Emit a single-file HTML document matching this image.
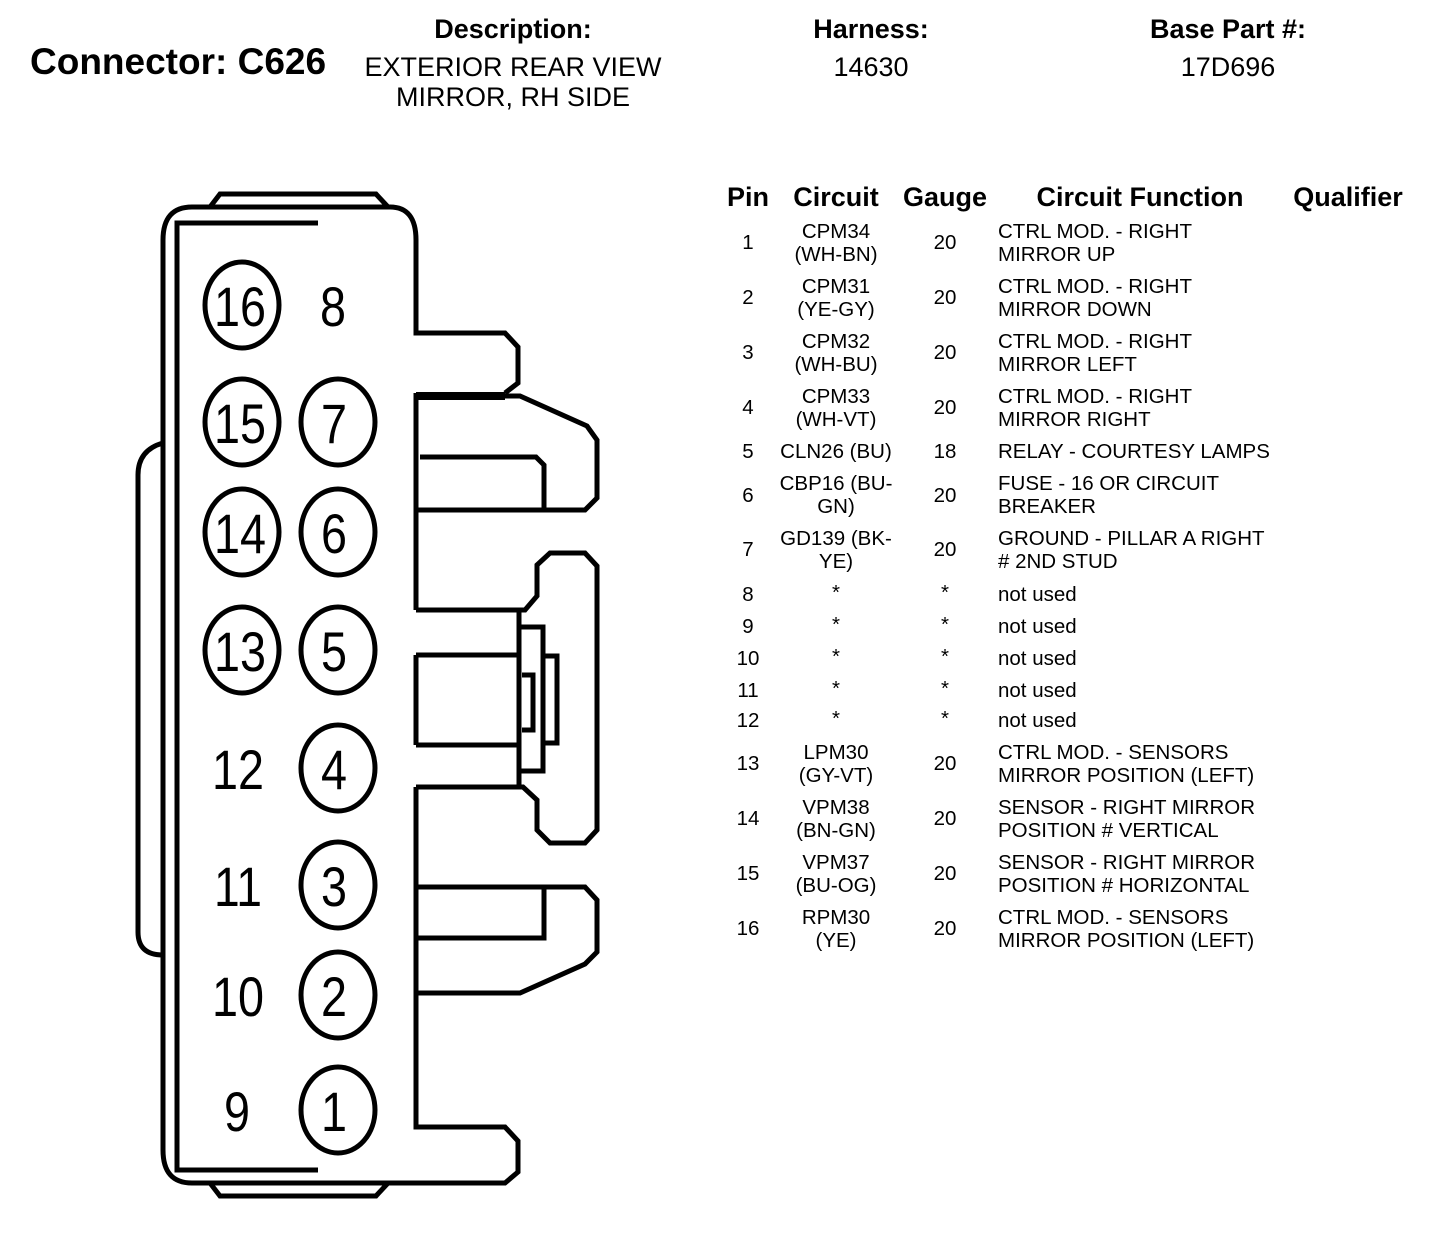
<!DOCTYPE html>
<html><head><meta charset="utf-8"><style>
html,body{margin:0;padding:0;background:#fff;}
svg{display:block;font-family:"Liberation Sans",Arial,sans-serif;}
</style></head><body>
<svg width="1456" height="1234" viewBox="0 0 1456 1234" xmlns="http://www.w3.org/2000/svg">
<g fill="#000">
<text x="30" y="74" font-size="37" font-weight="bold">Connector: C626</text>
<g font-size="27" text-anchor="middle">
<text x="513" y="38" font-weight="bold">Description:</text>
<text x="513" y="76">EXTERIOR REAR VIEW</text>
<text x="513" y="106">MIRROR, RH SIDE</text>
<text x="871" y="38" font-weight="bold">Harness:</text>
<text x="871" y="76">14630</text>
<text x="1228" y="38" font-weight="bold">Base Part #:</text>
<text x="1228" y="76">17D696</text>
<text x="748" y="206" font-weight="bold">Pin</text>
<text x="836" y="206" font-weight="bold">Circuit</text>
<text x="945" y="206" font-weight="bold">Gauge</text>
<text x="1140" y="206" font-weight="bold">Circuit Function</text>
<text x="1348" y="206" font-weight="bold">Qualifier</text>
</g>
<g font-size="20.5">
<g text-anchor="middle">
<text x="748" y="249">1</text><text x="836" y="238">CPM34</text><text x="836" y="261">(WH-BN)</text><text x="945" y="249">20</text>
<text x="748" y="304">2</text><text x="836" y="293">CPM31</text><text x="836" y="316">(YE-GY)</text><text x="945" y="304">20</text>
<text x="748" y="359">3</text><text x="836" y="348">CPM32</text><text x="836" y="371">(WH-BU)</text><text x="945" y="359">20</text>
<text x="748" y="414">4</text><text x="836" y="403">CPM33</text><text x="836" y="426">(WH-VT)</text><text x="945" y="414">20</text>
<text x="748" y="458">5</text><text x="836" y="458">CLN26 (BU)</text><text x="945" y="458">18</text>
<text x="748" y="502">6</text><text x="836" y="490">CBP16 (BU-</text><text x="836" y="513">GN)</text><text x="945" y="502">20</text>
<text x="748" y="556">7</text><text x="836" y="545">GD139 (BK-</text><text x="836" y="568">YE)</text><text x="945" y="556">20</text>
<text x="748" y="601">8</text><text x="836" y="599">*</text><text x="945" y="599">*</text>
<text x="748" y="633">9</text><text x="836" y="631">*</text><text x="945" y="631">*</text>
<text x="748" y="665">10</text><text x="836" y="663">*</text><text x="945" y="663">*</text>
<text x="748" y="697">11</text><text x="836" y="695">*</text><text x="945" y="695">*</text>
<text x="748" y="727">12</text><text x="836" y="725">*</text><text x="945" y="725">*</text>
<text x="748" y="770">13</text><text x="836" y="759">LPM30</text><text x="836" y="782">(GY-VT)</text><text x="945" y="770">20</text>
<text x="748" y="825">14</text><text x="836" y="814">VPM38</text><text x="836" y="837">(BN-GN)</text><text x="945" y="825">20</text>
<text x="748" y="880">15</text><text x="836" y="869">VPM37</text><text x="836" y="892">(BU-OG)</text><text x="945" y="880">20</text>
<text x="748" y="935">16</text><text x="836" y="924">RPM30</text><text x="836" y="947">(YE)</text><text x="945" y="935">20</text>
</g>
<text x="998" y="238">CTRL MOD. - RIGHT</text><text x="998" y="261">MIRROR UP</text>
<text x="998" y="293">CTRL MOD. - RIGHT</text><text x="998" y="316">MIRROR DOWN</text>
<text x="998" y="348">CTRL MOD. - RIGHT</text><text x="998" y="371">MIRROR LEFT</text>
<text x="998" y="403">CTRL MOD. - RIGHT</text><text x="998" y="426">MIRROR RIGHT</text>
<text x="998" y="458">RELAY - COURTESY LAMPS</text>
<text x="998" y="490">FUSE - 16 OR CIRCUIT</text><text x="998" y="513">BREAKER</text>
<text x="998" y="545">GROUND - PILLAR A RIGHT</text><text x="998" y="568"># 2ND STUD</text>
<text x="998" y="601">not used</text>
<text x="998" y="633">not used</text>
<text x="998" y="665">not used</text>
<text x="998" y="697">not used</text>
<text x="998" y="727">not used</text>
<text x="998" y="759">CTRL MOD. - SENSORS</text><text x="998" y="782">MIRROR POSITION (LEFT)</text>
<text x="998" y="814">SENSOR - RIGHT MIRROR</text><text x="998" y="837">POSITION # VERTICAL</text>
<text x="998" y="869">SENSOR - RIGHT MIRROR</text><text x="998" y="892">POSITION # HORIZONTAL</text>
<text x="998" y="924">CTRL MOD. - SENSORS</text><text x="998" y="947">MIRROR POSITION (LEFT)</text>
</g>
</g>

<g fill="none" stroke="#000" stroke-width="5" stroke-linejoin="miter">
<path d="M210,207 L220,194 L376,194 L388,207"/>
<path d="M210,1183 L220,1196 L376,1196 L388,1183"/>
<!-- main outline (open paths) -->
<path d="M505,393 L518,383 L518,347 L505,333 L416,333 L416,240 Q416,207 390,207 L192,207 Q163,207 163,240 L163,1150 Q163,1183 192,1183 L505,1183 L518,1172 L518,1141 L505,1127 L416,1127 L416,787"/>
<path d="M416,393 L416,610"/>
<path d="M416,655 L416,745"/>
<path d="M318,223 L177,223 L177,1170 L318,1170"/>
<path d="M416,396 L505,396" stroke-width="8"/>
<path d="M505,396 L520,396 L587,426 L597,440 L597,498 L585,510 L416,510"/>
<path d="M420,457 L536,457 L544,465 L544,510"/>
<path d="M163,443 Q138,450 138,475 L138,932 Q138,955 163,955"/>
<path d="M416,610 L525,610 L537,596 L537,565 L550,553 L585,553 L597,566 L597,830 L585,843 L550,843 L537,830 L537,800 L523,787 L416,787"/>
<path d="M519,610 L519,787"/>
<path d="M519,627 L543,627 L543,771 L519,771"/>
<path d="M543,656 L557,656 L557,743 L543,743"/>
<path d="M522,675 L533,675 L533,730 L522,730"/>
<path d="M416,655 L519,655 M416,745 L519,745"/>
<path d="M416,887 L585,887 L597,900 L597,952 L585,964 L520,993 L416,993"/>
<path d="M416,938 L544,938 L544,887"/>
</g>

<g fill="none" stroke="#000" stroke-width="5">
<ellipse cx="242" cy="305" rx="37" ry="43"/>
<ellipse cx="242" cy="422" rx="37" ry="43"/>
<ellipse cx="338" cy="422" rx="37" ry="43"/>
<ellipse cx="242" cy="532" rx="37" ry="43"/>
<ellipse cx="338" cy="532" rx="37" ry="43"/>
<ellipse cx="242" cy="650" rx="37" ry="43"/>
<ellipse cx="338" cy="650" rx="37" ry="43"/>
<ellipse cx="338" cy="768" rx="37" ry="43"/>
<ellipse cx="338" cy="885" rx="37" ry="43"/>
<ellipse cx="338" cy="995" rx="37" ry="43"/>
<ellipse cx="338" cy="1110" rx="37" ry="43"/>
</g>
<g fill="#000" font-size="56" text-anchor="middle">
<text x="240" y="326" textLength="52" lengthAdjust="spacingAndGlyphs">16</text>
<text x="333" y="326" textLength="26" lengthAdjust="spacingAndGlyphs">8</text>
<text x="240" y="443" textLength="52" lengthAdjust="spacingAndGlyphs">15</text>
<text x="334" y="443" textLength="26" lengthAdjust="spacingAndGlyphs">7</text>
<text x="240" y="553" textLength="52" lengthAdjust="spacingAndGlyphs">14</text>
<text x="334" y="553" textLength="26" lengthAdjust="spacingAndGlyphs">6</text>
<text x="240" y="671" textLength="52" lengthAdjust="spacingAndGlyphs">13</text>
<text x="334" y="671" textLength="26" lengthAdjust="spacingAndGlyphs">5</text>
<text x="238" y="789" textLength="52" lengthAdjust="spacingAndGlyphs">12</text>
<text x="334" y="789" textLength="26" lengthAdjust="spacingAndGlyphs">4</text>
<text x="238" y="906" textLength="48" lengthAdjust="spacingAndGlyphs">11</text>
<text x="334" y="906" textLength="26" lengthAdjust="spacingAndGlyphs">3</text>
<text x="238" y="1016" textLength="52" lengthAdjust="spacingAndGlyphs">10</text>
<text x="334" y="1016" textLength="26" lengthAdjust="spacingAndGlyphs">2</text>
<text x="237" y="1131" textLength="26" lengthAdjust="spacingAndGlyphs">9</text>
<text x="334" y="1131" textLength="26" lengthAdjust="spacingAndGlyphs">1</text>
</g>
</svg>
</body></html>
